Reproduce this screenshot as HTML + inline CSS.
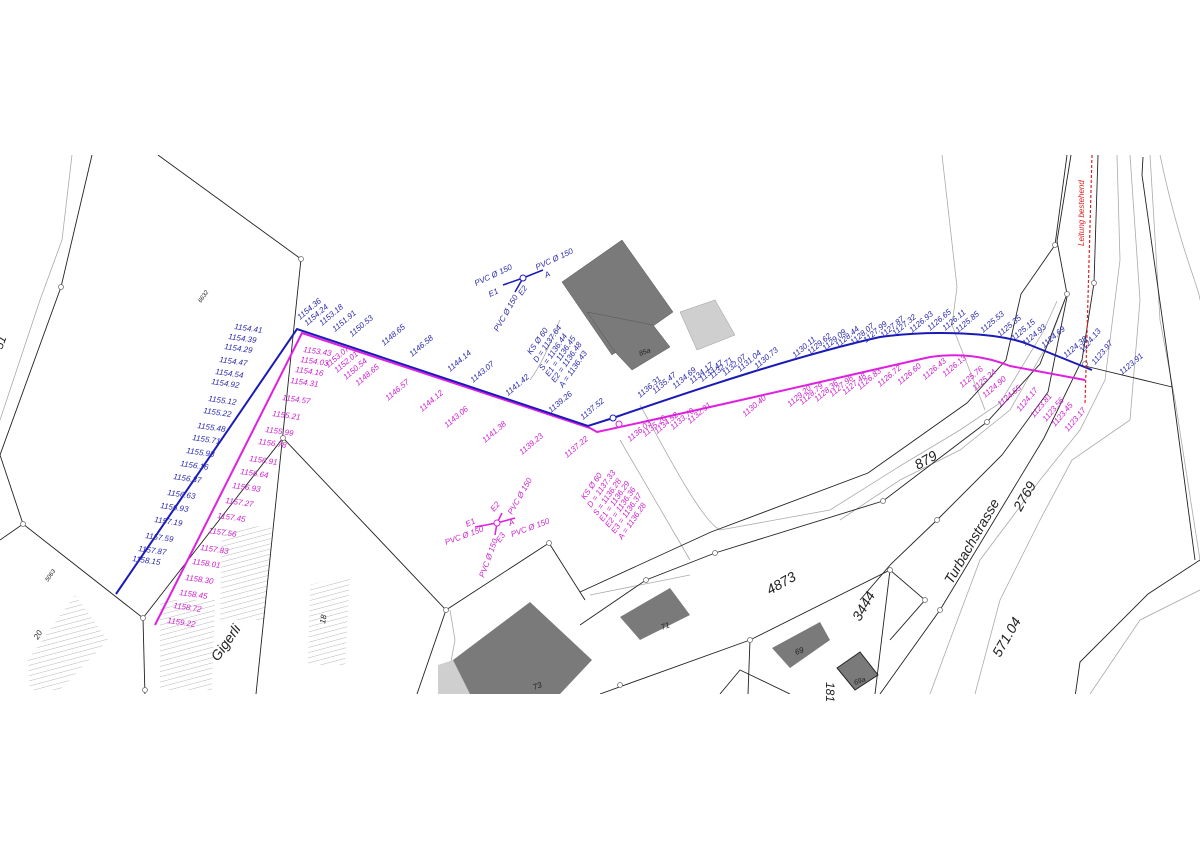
<!DOCTYPE html>
<html><head><meta charset="utf-8"><style>
html,body{margin:0;padding:0;background:#fff;}
svg{display:block;}
text{font-family:"Liberation Sans",sans-serif;font-style:italic;}
.b{fill:#2a2ab0;font-size:8px;}
.m{fill:#d020d0;font-size:8px;}
.k{fill:#222;font-style:normal;}
</style></head><body>
<svg width="1200" height="849" viewBox="0 0 1200 849" xmlns="http://www.w3.org/2000/svg">
<defs>
<pattern id="h" width="5" height="5" patternUnits="userSpaceOnUse" patternTransform="rotate(75)">
<line x1="0" y1="0" x2="0" y2="5" stroke="#999" stroke-width="0.7"/></pattern>
<clipPath id="c"><rect x="0" y="155" width="1200" height="539"/></clipPath>
</defs>
<g clip-path="url(#c)">
<polygon points="28,660 75,595 108,640 60,690 30,690" fill="url(#h)"/>
<polygon points="222,530 272,525 265,620 220,620" fill="url(#h)"/>
<polygon points="160,600 215,600 212,690 160,690" fill="url(#h)"/>
<polygon points="310,585 350,575 345,665 308,665" fill="url(#h)"/>
<g stroke="#aaa" stroke-width="0.8" fill="none">
<path d="M72,155 L62,240 L40,300 L0,420"/>
<path d="M942,155 L957,287 L952,325 L985,410"/>
<path d="M1057,301 L1043,332 L1000,403 L960,430 L900,466 L830,510 L720,530 C700,520 660,440 640,405"/>
<path d="M1065,300 L1050,340 L1010,410 L960,450 L900,480 L840,520"/>
<path d="M1117,155 L1120,260 L1105,380 L1080,430 L1040,480 L980,560 L950,640 L930,694"/>
<path d="M1130,155 L1140,300 L1130,420 L1072,460 L1040,520 L1000,600 L975,694"/>
<path d="M1160,155 C1180,250 1200,290 1200,300"/>
<path d="M1150,155 L1160,320 L1175,400 L1200,560"/>
<path d="M1200,590 L1140,620 L1090,694"/>
<path d="M620,440 L690,560"/>
<path d="M590,595 L690,575"/>
<path d="M530,380 C545,360 555,330 560,320"/>
<path d="M450,610 L455,640 L445,694"/>
</g>
<g stroke="#222" stroke-width="0.9" fill="none">
<path d="M158,155 L301,259 L256,694"/>
<path d="M92,155 L61,287 L0,455"/>
<path d="M0,455 L23,524 L143,618 L283,438 L446,610 L549,543"/>
<path d="M23,524 L0,540"/>
<path d="M143,618 L145,697"/>
<path d="M446,610 L417,694"/>
<path d="M549,543 L585,600"/>
<path d="M580,592 L711,532 L868,473 L967,403 L1006,360 L1021,294 L1055,245 L1067,155"/>
<path d="M580,625 L646,580 L715,553 L883,501 L987,422 L1040,364 L1067,294 L1057,241 L1071,155"/>
<path d="M860,600 L891,564 L937,520 L1002,455 L1048,392 L1067,297"/>
<path d="M880,694 L940,610 L1044,438 L1082,360 L1094,283 L1098,155"/>
<path d="M1085,366 L1172,387"/>
<path d="M1143,157 L1142,175 L1172,387 L1195,560"/>
<path d="M1200,560 L1148,594 L1080,662 L1075,697"/>
<path d="M600,694 L750,640 L890,570 L925,600 L890,640"/>
<path d="M750,640 L748,694"/>
<path d="M890,570 L875,694"/>
<path d="M720,694 L740,670 L790,694"/>
</g>
<g fill="#fff" stroke="#666" stroke-width="0.7">
<circle cx="301" cy="259" r="2.5"/><circle cx="61" cy="287" r="2.5"/><circle cx="23" cy="524" r="2.5"/>
<circle cx="143" cy="618" r="2.5"/><circle cx="283" cy="438" r="2.5"/><circle cx="446" cy="610" r="2.5"/>
<circle cx="549" cy="543" r="2.5"/><circle cx="145" cy="690" r="2.5"/><circle cx="890" cy="570" r="2.5"/>
<circle cx="925" cy="600" r="2.5"/><circle cx="750" cy="640" r="2.5"/><circle cx="1055" cy="245" r="2.5"/>
<circle cx="1094" cy="283" r="2.5"/><circle cx="987" cy="422" r="2.5"/><circle cx="883" cy="501" r="2.5"/>
<circle cx="937" cy="520" r="2.5"/><circle cx="940" cy="610" r="2.5"/><circle cx="1085" cy="364" r="2.5"/>
<circle cx="715" cy="553" r="2.5"/><circle cx="646" cy="580" r="2.5"/><circle cx="620" cy="685" r="2.5"/>
<circle cx="1067" cy="294" r="2.5"/>
</g>
<polygon points="562,282 622,240 673,312 612,355" fill="#7a7a7a" stroke="#555" stroke-width="0.5"/>
<polygon points="587,312 653,325 670,347 632,370 615,352" fill="#7a7a7a" stroke="#555" stroke-width="0.5"/>
<polygon points="680,312 715,300 735,335 697,350" fill="#cfcfcf" stroke="#999" stroke-width="0.5"/>
<polygon points="453,660 530,602 592,660 560,694 453,694" fill="#7a7a7a"/>
<polygon points="438,665 453,660 470,694 438,694" fill="#cfcfcf"/>
<polygon points="620,617 670,588 690,615 640,640" fill="#7a7a7a"/>
<polygon points="772,648 820,622 830,640 790,668" fill="#7a7a7a"/>
<polygon points="837,668 860,652 878,675 855,690" fill="#7a7a7a" stroke="#222"/>
<path d="M155,625 L302,333 L590,428 L597,432 C700,410 850,375 930,357 C960,353 985,356 1010,366 L1085,380" fill="none" stroke="#e020e0" stroke-width="2"/>
<path d="M116,594 L297,329 L588,426 L613,418 C700,388 800,355 880,337 C930,330 1000,332 1030,345 L1092,370" fill="none" stroke="#1a1ab8" stroke-width="2"/>
<circle cx="613" cy="418" r="3" fill="#fff" stroke="#1a1ab8"/>
<circle cx="619" cy="424" r="3" fill="#fff" stroke="#e020e0"/>
<path d="M1092,155 L1085,405" stroke="#d22" stroke-width="1.2" stroke-dasharray="3,2"/>
<g stroke="#1a1ab8" stroke-width="1.5"><path d="M503,285 L523,278 L543,270 M523,278 L515,292"/></g>
<circle cx="523" cy="278" r="3" fill="#fff" stroke="#1a1ab8"/>
<g stroke="#e020e0" stroke-width="1.5"><path d="M475,527 L497,523 L515,518 M497,523 L502,513 M497,523 L495,535"/></g>
<circle cx="497" cy="523" r="3" fill="#fff" stroke="#e020e0"/>
</g>
<g class="b" text-anchor="end">
<text transform="translate(262,333) rotate(8)">1154.41</text>
<text transform="translate(256,343) rotate(8)">1154.39</text>
<text transform="translate(252,353) rotate(8)">1154.29</text>
<text transform="translate(247,366) rotate(8)">1154.47</text>
<text transform="translate(243,378) rotate(8)">1154.54</text>
<text transform="translate(239,388) rotate(8)">1154.92</text>
<text transform="translate(236,405) rotate(8)">1155.12</text>
<text transform="translate(231,417) rotate(8)">1155.22</text>
<text transform="translate(225,432) rotate(8)">1155.48</text>
<text transform="translate(220,444) rotate(8)">1155.71</text>
<text transform="translate(214,457) rotate(8)">1155.93</text>
<text transform="translate(208,470) rotate(8)">1156.16</text>
<text transform="translate(201,483) rotate(8)">1156.37</text>
<text transform="translate(195,499) rotate(8)">1156.63</text>
<text transform="translate(188,512) rotate(8)">1156.93</text>
<text transform="translate(182,526) rotate(8)">1157.19</text>
<text transform="translate(173,542) rotate(8)">1157.59</text>
<text transform="translate(166,555) rotate(8)">1157.87</text>
<text transform="translate(160,565) rotate(8)">1158.15</text>
</g>
<g class="m">
<text transform="translate(303,352) rotate(8)">1153.43</text>
<text transform="translate(300,362) rotate(8)">1154.03</text>
<text transform="translate(295,372) rotate(8)">1154.16</text>
<text transform="translate(290,383) rotate(8)">1154.31</text>
<text transform="translate(282,400) rotate(8)">1154.57</text>
<text transform="translate(272,416) rotate(8)">1155.21</text>
<text transform="translate(265,432) rotate(8)">1155.99</text>
<text transform="translate(258,444) rotate(8)">1156.78</text>
<text transform="translate(249,461) rotate(8)">1156.91</text>
<text transform="translate(240,474) rotate(8)">1156.64</text>
<text transform="translate(232,488) rotate(8)">1156.93</text>
<text transform="translate(225,503) rotate(8)">1157.27</text>
<text transform="translate(217,518) rotate(8)">1157.45</text>
<text transform="translate(208,533) rotate(8)">1157.56</text>
<text transform="translate(200,550) rotate(8)">1157.83</text>
<text transform="translate(192,564) rotate(8)">1158.01</text>
<text transform="translate(185,580) rotate(8)">1158.30</text>
<text transform="translate(179,595) rotate(8)">1158.45</text>
<text transform="translate(173,608) rotate(8)">1158.72</text>
<text transform="translate(167,623) rotate(8)">1159.22</text>
</g>
<g class="b">
<text transform="translate(300,320) rotate(-40)">1154.36</text>
<text transform="translate(307,326) rotate(-40)">1154.24</text>
<text transform="translate(322,326) rotate(-40)">1153.18</text>
<text transform="translate(335,332) rotate(-40)">1151.91</text>
<text transform="translate(352,337) rotate(-40)">1150.53</text>
<text transform="translate(384,346) rotate(-40)">1148.65</text>
<text transform="translate(412,357) rotate(-40)">1146.58</text>
<text transform="translate(450,372) rotate(-40)">1144.14</text>
<text transform="translate(473,383) rotate(-40)">1143.07</text>
<text transform="translate(508,396) rotate(-40)">1141.42</text>
<text transform="translate(551,413) rotate(-40)">1139.26</text>
<text transform="translate(583,420) rotate(-40)">1137.52</text>
</g>
<g class="m">
<text transform="translate(328,368) rotate(-40)">1153.07</text>
<text transform="translate(337,373) rotate(-40)">1152.01</text>
<text transform="translate(346,380) rotate(-40)">1150.54</text>
<text transform="translate(358,386) rotate(-40)">1148.65</text>
<text transform="translate(388,401) rotate(-40)">1146.57</text>
<text transform="translate(422,412) rotate(-40)">1144.12</text>
<text transform="translate(447,428) rotate(-40)">1143.06</text>
<text transform="translate(485,443) rotate(-40)">1141.38</text>
<text transform="translate(522,455) rotate(-40)">1139.23</text>
<text transform="translate(567,458) rotate(-40)">1137.22</text>
</g>
<g class="b">
<text transform="translate(640,398) rotate(-40)">1136.31</text>
<text transform="translate(655,394) rotate(-40)">1135.47</text>
<text transform="translate(675,389) rotate(-40)">1134.69</text>
<text transform="translate(692,384) rotate(-40)">1134.17</text>
<text transform="translate(702,382) rotate(-40)">1133.47</text>
<text transform="translate(712,379) rotate(-40)">1132.71</text>
<text transform="translate(725,376) rotate(-40)">1132.07</text>
<text transform="translate(740,372) rotate(-40)">1131.04</text>
<text transform="translate(757,369) rotate(-40)">1130.73</text>
<text transform="translate(795,358) rotate(-40)">1130.11</text>
<text transform="translate(810,355) rotate(-40)">1129.62</text>
<text transform="translate(825,351) rotate(-40)">1129.09</text>
<text transform="translate(838,348) rotate(-40)">1128.44</text>
<text transform="translate(853,345) rotate(-40)">1128.07</text>
<text transform="translate(866,343) rotate(-40)">1127.99</text>
<text transform="translate(883,338) rotate(-40)">1127.87</text>
<text transform="translate(895,336) rotate(-40)">1127.32</text>
<text transform="translate(912,333) rotate(-40)">1126.93</text>
<text transform="translate(930,331) rotate(-40)">1126.65</text>
<text transform="translate(945,331) rotate(-40)">1126.11</text>
<text transform="translate(958,333) rotate(-40)">1125.85</text>
<text transform="translate(983,333) rotate(-40)">1125.53</text>
<text transform="translate(1000,337) rotate(-40)">1125.35</text>
<text transform="translate(1014,341) rotate(-40)">1125.15</text>
<text transform="translate(1025,346) rotate(-40)">1124.93</text>
<text transform="translate(1044,348) rotate(-40)">1124.69</text>
<text transform="translate(1066,358) rotate(-40)">1124.38</text>
<text transform="translate(1083,353) rotate(-50)">1124.13</text>
<text transform="translate(1095,365) rotate(-50)">1123.97</text>
<text transform="translate(1122,375) rotate(-40)">1123.91</text>
</g>
<g class="m">
<text transform="translate(630,442) rotate(-40)">1136.03</text>
<text transform="translate(645,437) rotate(-40)">1135.26</text>
<text transform="translate(657,434) rotate(-40)">1134.52</text>
<text transform="translate(673,430) rotate(-40)">1133.70</text>
<text transform="translate(690,424) rotate(-40)">1132.91</text>
<text transform="translate(745,417) rotate(-40)">1130.40</text>
<text transform="translate(790,407) rotate(-40)">1129.20</text>
<text transform="translate(802,405) rotate(-40)">1128.79</text>
<text transform="translate(817,402) rotate(-40)">1128.36</text>
<text transform="translate(832,397) rotate(-40)">1127.98</text>
<text transform="translate(845,395) rotate(-40)">1127.48</text>
<text transform="translate(860,390) rotate(-40)">1126.83</text>
<text transform="translate(880,387) rotate(-40)">1126.72</text>
<text transform="translate(900,385) rotate(-40)">1126.60</text>
<text transform="translate(925,380) rotate(-40)">1126.43</text>
<text transform="translate(945,377) rotate(-40)">1126.13</text>
<text transform="translate(962,388) rotate(-40)">1125.76</text>
<text transform="translate(975,391) rotate(-40)">1125.24</text>
<text transform="translate(985,398) rotate(-40)">1124.90</text>
<text transform="translate(1000,407) rotate(-40)">1124.55</text>
<text transform="translate(1020,412) rotate(-50)">1124.17</text>
<text transform="translate(1034,418) rotate(-50)">1123.81</text>
<text transform="translate(1046,422) rotate(-50)">1123.56</text>
<text transform="translate(1055,427) rotate(-50)">1123.45</text>
<text transform="translate(1068,432) rotate(-50)">1123.17</text>
</g>
<g class="b">
<text transform="translate(531,355) rotate(-55)">KS Ø 60</text>
<text transform="translate(537,363) rotate(-55)">D = 1137.64</text>
<text transform="translate(543,371) rotate(-55)">S = 1136.44</text>
<text transform="translate(549,377) rotate(-55)">E1 = 1136.45</text>
<text transform="translate(555,383) rotate(-55)">E2 = 1136.48</text>
<text transform="translate(563,388) rotate(-55)">A = 1136.43</text>
<text transform="translate(476,286) rotate(-25)">PVC Ø 150</text>
<text transform="translate(490,297) rotate(-25)">E1</text>
<text transform="translate(537,270) rotate(-25)">PVC Ø 150</text>
<text transform="translate(546,278) rotate(-25)">A</text>
<text transform="translate(522,296) rotate(-55)">E2</text>
<text transform="translate(498,332) rotate(-60)">PVC Ø 150</text>
</g>
<g class="m">
<text transform="translate(585,500) rotate(-55)">KS Ø 60</text>
<text transform="translate(591,508) rotate(-55)">D = 1137.33</text>
<text transform="translate(597,516) rotate(-55)">S = 1136.28</text>
<text transform="translate(603,522) rotate(-55)">E1 = 1136.29</text>
<text transform="translate(609,528) rotate(-55)">E2 = 1136.36</text>
<text transform="translate(615,534) rotate(-55)">E3 = 1136.37</text>
<text transform="translate(622,540) rotate(-55)">A = 1136.28</text>
<text transform="translate(446,545) rotate(-20)">PVC Ø 150</text>
<text transform="translate(467,527) rotate(-25)">E1</text>
<text transform="translate(494,512) rotate(-50)">E2</text>
<text transform="translate(510,526) rotate(-25)">A</text>
<text transform="translate(512,537) rotate(-20)">PVC Ø 150</text>
<text transform="translate(512,515) rotate(-60)">PVC Ø 150</text>
<text transform="translate(500,543) rotate(-55)">E3</text>
<text transform="translate(484,578) rotate(-70)">PVC Ø 150</text>
</g>
<g class="k">
<text transform="translate(918,470) rotate(-30)" font-size="14">879</text>
<text transform="translate(1021,512) rotate(-60)" font-size="14">2769</text>
<text transform="translate(952,585) rotate(-60)" font-size="14">Turbachstrasse</text>
<text transform="translate(770,595) rotate(-30)" font-size="14">4873</text>
<text transform="translate(860,622) rotate(-60)" font-size="14">3444</text>
<text transform="translate(1000,658) rotate(-60)" font-size="14">571.04</text>
<text transform="translate(218,662) rotate(-55)" font-size="14">Gigerli</text>
<text transform="translate(201,303) rotate(-55)" font-size="6">6632</text>
<text transform="translate(48,582) rotate(-55)" font-size="6">5063</text>
<text transform="translate(38,640) rotate(-60)" font-size="8">20</text>
<text transform="translate(325,624) rotate(-80)" font-size="8">18</text>
<text transform="translate(534,690) rotate(-20)" font-size="8">73</text>
<text transform="translate(662,630) rotate(-20)" font-size="8">71</text>
<text transform="translate(796,655) rotate(-20)" font-size="8">69</text>
<text transform="translate(855,685) rotate(-20)" font-size="7">69a</text>
<text transform="translate(640,356) rotate(-20)" font-size="7">85a</text>
<text transform="translate(826,682) rotate(90)" font-size="12">181</text>
<text transform="translate(2,350) rotate(-70)" font-size="12">51</text>
</g>
<text transform="translate(1084,246) rotate(-90)" font-size="8" fill="#d22">Leitung bestehend</text>
</svg>
</body></html>
